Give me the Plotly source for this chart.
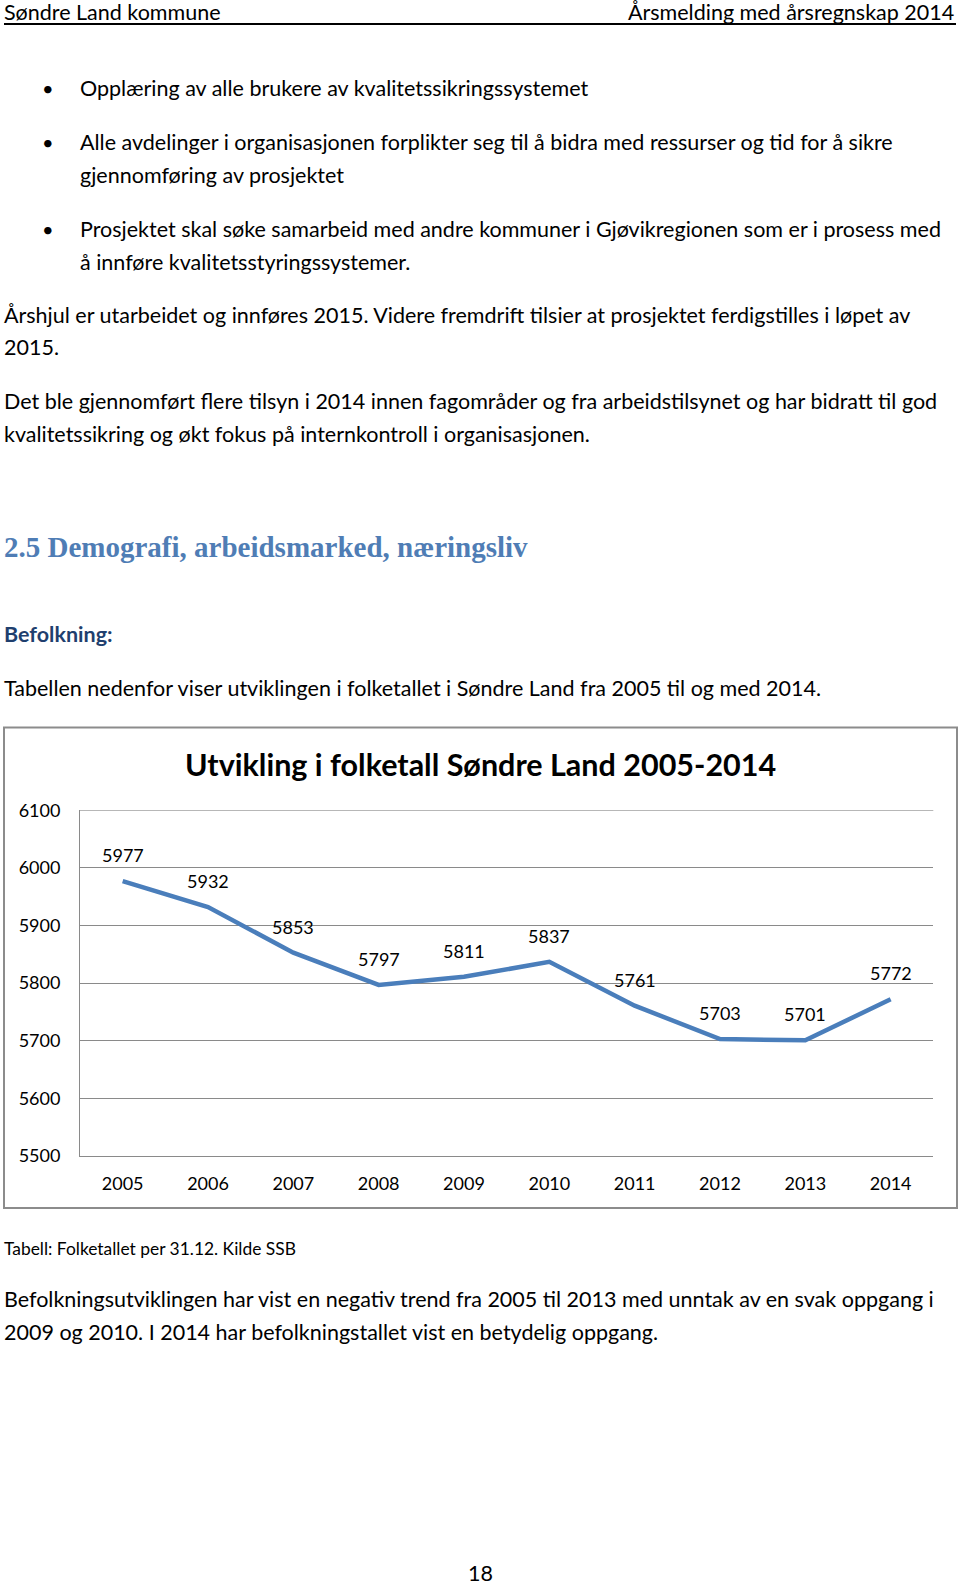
import plotly.graph_objects as go

# ---- data ----
years = ["2005", "2006", "2007", "2008", "2009", "2010", "2011", "2012", "2013", "2014"]
population = [5977, 5932, 5853, 5797, 5811, 5837, 5761, 5703, 5701, 5772]
y_ticks = [5500, 5600, 5700, 5800, 5900, 6000, 6100]

W, H = 960, 1584
S = 1.013            # vertical stretch compensating the capture
FIG_H = 1610
BODY_FONT = "Lato"
BODY_SIZE = 21.5

def px(x):
    return x / W

def py(y):
    return 1 - (y * S) / FIG_H

fig = go.Figure()

fig.add_trace(go.Scatter(
    x=years, y=population, mode="lines",
    line=dict(color="#4A7EBB", width=4.5),
    hoverinfo="x+y", showlegend=False,
))

annotations = []
for i, v in enumerate(population):
    annotations.append(dict(
        x=i, y=v, xref="x", yref="y", text=str(v), showarrow=False,
        yshift=26, font=dict(family=BODY_FONT, size=18, color="#000000"),
    ))

def txt(x, y, s, size=BODY_SIZE, color="#000000", family=BODY_FONT, xanchor="left", bold=False):
    if bold:
        s = "<b>" + s + "</b>"
    if xanchor == "left":
        x = x - 2
    annotations.append(dict(
        x=px(x), y=py(y - 1), xref="paper", yref="paper", text=s, showarrow=False,
        xanchor=xanchor, yanchor="middle",
        font=dict(family=family, size=size, color=color),
    ))

txt(4, 12.5, "Søndre Land kommune", size=21.5)
txt(956, 12.5, "Årsmelding med årsregnskap 2014", size=21.5, xanchor="right")

for yb in [88, 142.5, 229.4]:
    txt(47.5, yb, "•", size=20, xanchor="center")
txt(80, 88, "Opplæring av alle brukere av kvalitetssikringssystemet")
txt(80, 142.5, "Alle avdelinger i organisasjonen forplikter seg til å bidra med ressurser og tid for å sikre")
txt(80, 175, "gjennomføring av prosjektet")
txt(80, 229.4, "Prosjektet skal søke samarbeid med andre kommuner i Gjøvikregionen som er i prosess med")
txt(80, 262.7, "å innføre kvalitetsstyringssystemer.")
txt(4, 315.3, "Årshjul er utarbeidet og innføres 2015. Videre fremdrift tilsier at prosjektet ferdigstilles i løpet av")
txt(4, 347.6, "2015.")
txt(4, 401, "Det ble gjennomført flere tilsyn i 2014 innen fagområder og fra arbeidstilsynet og har bidratt til god")
txt(4, 434.5, "kvalitetssikring og økt fokus på internkontroll i organisasjonen.")
txt(4, 547.7, "2.5 Demografi, arbeidsmarked, næringsliv", size=29, color="#4F7DB5",
    family="Liberation Serif", bold=True)
txt(4, 634.6, "Befolkning:", size=21.5, color="#1F3F6E", bold=True)
txt(4, 689, "Tabellen nedenfor viser utviklingen i folketallet i Søndre Land fra 2005 til og med 2014.")
txt(4, 1250, "Tabell: Folketallet per 31.12. Kilde SSB", size=17.4)
txt(4, 1300.5, "Befolkningsutviklingen har vist en negativ trend fra 2005 til 2013 med unntak av en svak oppgang i")
txt(4, 1333, "2009 og 2010. I 2014 har befolkningstallet vist en betydelig oppgang.")
txt(480, 1574, "18", xanchor="center")

txt(480, 765, "Utvikling i folketall Søndre Land 2005-2014", size=30.5, xanchor="center", bold=True)

shapes = [
    dict(type="line", xref="paper", yref="paper", x0=px(4), x1=px(956), y0=py(23), y1=py(23),
         line=dict(color="#000000", width=2)),
    dict(type="rect", xref="paper", yref="paper", x0=px(4), x1=px(957), y0=py(727), y1=py(1208),
         line=dict(color="#8C8C8C", width=2)),
    dict(type="line", xref="x domain", yref="y", x0=0, x1=1, y0=y_ticks[-1], y1=y_ticks[-1],
         line=dict(color="#8A8A8A", width=1)),
]

fig.update_layout(
    width=W, height=FIG_H,
    margin=dict(l=0, r=0, t=0, b=0),
    paper_bgcolor="white", plot_bgcolor="white",
    annotations=annotations, shapes=shapes,
    xaxis=dict(
        domain=[px(80), px(933.3)], type="category", range=[-0.5, 9.5],
        showgrid=False, showline=True, linecolor="#8A8A8A", linewidth=1, zeroline=False,
        tickfont=dict(family=BODY_FONT, size=18, color="#000000"),
        ticks="", ticklabelstandoff=11,
    ),
    yaxis=dict(
        domain=[py(1156), py(810)], range=[5500, 6100], tickvals=y_ticks,
        showgrid=True, gridcolor="#8A8A8A", gridwidth=1,
        showline=True, linecolor="#8A8A8A", linewidth=1, zeroline=False,
        tickfont=dict(family=BODY_FONT, size=18, color="#000000"),
        ticks="", ticklabelstandoff=15,
    ),
    font=dict(family=BODY_FONT),
)

fig.write_html(
    "out.html",
    config={"displayModeBar": False},
    post_script="document.body.style.margin='0';document.body.style.padding='0';"
                "document.body.style.marginTop='-11px';"
                "document.documentElement.style.overflow='hidden';",
)
